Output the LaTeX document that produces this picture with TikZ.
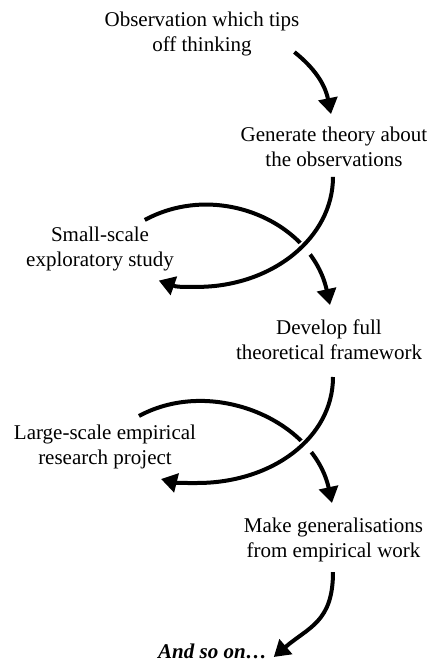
\documentclass[tikz,border=0pt]{standalone}
\usepackage{fontspec}
\setmainfont{Liberation Serif}
\usetikzlibrary{arrows.meta}
\tikzstyle{every node}=[align=center, inner sep=0pt, font=\fontsize{21}{25}\selectfont]
\tikzstyle{flow}=[-{Triangle[length=16pt, width=19pt]}]
\tikzstyle{over}=[preaction={draw, white, line width=15pt, -, shorten <=25pt, shorten >=60pt}]

\begin{document}
\begin{tikzpicture}[x=1pt, y=-1pt, line width=4pt]
\useasboundingbox (0,0) rectangle (431,662);
% Stages
    \node (obs) at (202,34) {Observation which tips\\off thinking};
    \node (gen) at (334,147) {Generate theory about\\the observations};
    \node (small) at (100,248.5) {Small-scale\\exploratory study};
    \node (dev) at (329,340) {Develop full\\theoretical framework};
    \node (large) at (105,446.5) {Large-scale empirical\\research project};
    \node (make) at (333.5,540) {Make generalisations\\from empirical work};
    \node[font=\fontsize{21}{25}\selectfont\bfseries\itshape] (andso) at (212.5,651) {And so on…};
% Straight on
    \draw[flow] ([shift={(-7,-6)}]obs.south east) .. controls +(20,16) and +(-6,-30) .. ([shift={(-3,-11)}]gen.north);
    \draw[flow] ([shift={(-0.5,8)}]make.south) .. controls +(0,50) and +(35,-30) .. ([shift={(5,6)}]andso.east);
% Side studies, passing under
    \draw[flow] ([shift={(-31,-4.5)}]small.north east) .. controls +(74,-40) and +(-18,-82) .. ([shift={(1,-13)}]dev.north);
    \draw[flow] ([shift={(34,-6.5)}]large.north) .. controls +(74,-40) and +(-18,-82) .. ([shift={(-1.5,-13)}]make.north);
% Back to the studies, passing over
    \draw[flow, over] ([shift={(-1,8)}]gen.south) .. controls +(0,61) and +(75,0) .. ++(-136,110)
        .. controls +(-20,0) .. ([shift={(-17,8)}]small.south east);
    \draw[flow, over] ([shift={(4,15)}]dev.south) .. controls +(0,61) and +(75,0) .. ++(-136,106)
        .. controls +(-20,0) .. ([shift={(-37,8.5)}]large.south east);
\end{tikzpicture}
\end{document}
